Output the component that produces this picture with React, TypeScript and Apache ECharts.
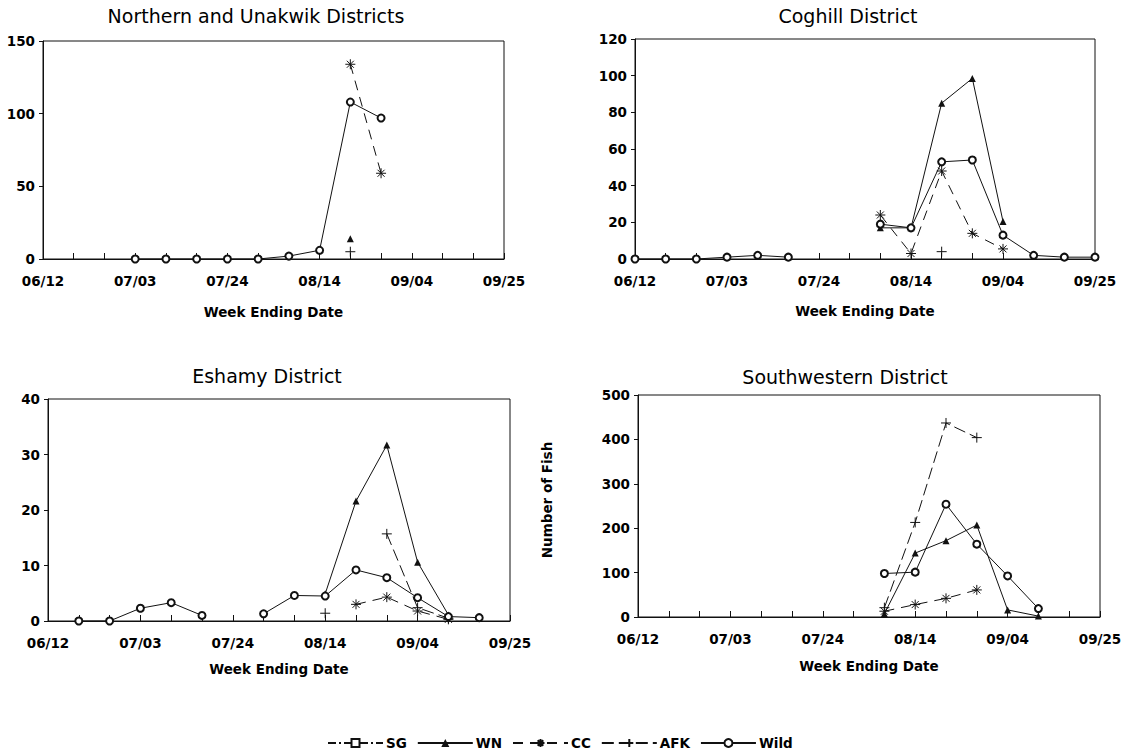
import React, { useEffect, useRef } from "react";
import * as echarts from "echarts";

const weeks = ["06/12","06/19","06/26","07/03","07/10","07/17","07/24","07/31","08/07","08/14","08/21","08/28","09/04","09/11","09/18","09/25"];
const _ = null;

// Northern and Unakwik Districts
const northernSG = [_,_,_,_,_,_,_,_,_,_,_,_,_,_,_,_];
const northernWN = [_,_,_,_,_,_,_,_,_,_,14,_,_,_,_,_];
const northernCC = [_,_,_,_,_,_,_,_,_,_,134,59,_,_,_,_];
const northernAFK = [_,_,_,_,_,_,_,_,_,_,5,_,_,_,_,_];
const northernWild = [_,_,_,0,0,0,0,0,2,6,108,97,_,_,_,_];

// Coghill District
const coghillSG = [_,_,_,_,_,_,_,_,_,_,_,_,_,_,_,_];
const coghillWN = [_,_,_,_,_,_,_,_,17,17,85,98.5,20.5,_,_,_];
const coghillCC = [_,_,_,_,_,_,_,_,24,3,48,14,5.5,_,_,_];
const coghillAFK = [_,_,_,_,_,_,_,_,_,_,4,_,_,_,_,_];
const coghillWild = [0,0,0,1,2,1,_,_,19,17,53,54,13,2,1,1];

// Eshamy District
const eshamySG = [_,_,_,_,_,_,_,_,_,_,_,_,_,_,_,_];
const eshamyWN = [_,_,_,_,_,_,_,_,_,4.9,21.6,31.7,10.6,1.1,_,_];
const eshamyCC = [_,_,_,_,_,_,_,_,_,_,3.0,4.3,1.8,0.3,_,_];
const eshamyAFK = [_,_,_,_,_,_,_,_,_,1.4,_,15.7,2.4,0.5,_,_];
const eshamyWild = [_,0,0,2.3,3.3,1.0,_,1.3,4.6,4.5,9.2,7.8,4.2,0.8,0.6,_];

// Southwestern District
const swSG = [_,_,_,_,_,_,_,_,_,_,_,_,_,_,_,_];
const swWN = [_,_,_,_,_,_,_,_,7.5,144,172,207,16,2,_,_];
const swCC = [_,_,_,_,_,_,_,_,13,28,42,61,_,_,_,_];
const swAFK = [_,_,_,_,_,_,_,_,21,213,437,404,_,_,_,_];
const swWild = [_,_,_,_,_,_,_,_,98,101,254,164,92.5,19,_,_];

const panelTitles = ["Northern and Unakwik Districts", "Coghill District", "Eshamy District", "Southwestern District"];
const yMax = [150, 120, 40, 500];
const yInterval = [50, 20, 10, 100];
const seriesNames = ["SG", "WN", "CC", "AFK", "Wild"];
const panelData = [
  [northernSG, northernWN, northernCC, northernAFK, northernWild],
  [coghillSG, coghillWN, coghillCC, coghillAFK, coghillWild],
  [eshamySG, eshamyWN, eshamyCC, eshamyAFK, eshamyWild],
  [swSG, swWN, swCC, swAFK, swWild],
];

const grids = [
  { left: 43, top: 41, width: 461, height: 218 },
  { left: 635, top: 39, width: 460, height: 220 },
  { left: 48, top: 399, width: 462, height: 222 },
  { left: 638, top: 395, width: 462, height: 222 },
];
const nameGaps = [46, 45, 41, 42];
const titlePos = [
  [256, 16],
  [848, 16],
  [267, 376],
  [845, 377],
];

const FONT = "'DejaVu Sans', 'Liberation Sans', sans-serif";
const INK = "#111";

const plusPath = "path://M5,0L5,10M0,5L10,5";
const starPath = "path://M5,0L5,10M0,5L10,5M1.5,1.5L8.5,8.5M8.5,1.5L1.5,8.5";

const seriesStyle: Record<string, any> = {
  SG: { symbol: "emptyRect", symbolSize: 7, lineType: [8, 3, 2, 3] },
  WN: { symbol: "triangle", symbolSize: 7, lineType: "solid" },
  CC: { symbol: starPath, symbolSize: 10, lineType: [10, 7] },
  AFK: { symbol: plusPath, symbolSize: 10, lineType: [12, 5] },
  Wild: { symbol: "emptyCircle", symbolSize: 7, lineType: "solid" },
};

export default function App() {
  const ref = useRef<HTMLDivElement>(null);
  useEffect(() => {
    if (!ref.current) return;
    const chart = echarts.init(ref.current, undefined, { renderer: "svg" });

    const series: any[] = [];
    panelData.forEach((arrs, gi) => {
      arrs.forEach((arr, si) => {
        const name = seriesNames[si];
        const st = seriesStyle[name];
        const isPath = name === "CC" || name === "AFK";
        series.push({
          type: "line",
          name,
          xAxisIndex: gi,
          yAxisIndex: gi,
          data: arr,
          symbol: st.symbol,
          symbolSize: st.symbolSize,
          showAllSymbol: true,
          connectNulls: false,
          lineStyle: { color: INK, width: 1, type: st.lineType },
          itemStyle: isPath
            ? { color: INK, borderColor: INK, borderWidth: 1 }
            : { color: INK, borderWidth: name === "WN" ? 0 : 0.9 },
          emphasis: { disabled: true },
        });
      });
    });

    const axisText = { fontFamily: FONT, fontWeight: "bold", fontSize: 13.5, color: "#000" };

    const option: any = {
      animation: false,
      backgroundColor: "#fff",
      grid: grids.map((g) => ({ ...g, show: true, borderColor: INK, borderWidth: 1, backgroundColor: "transparent" })),
      xAxis: grids.map((g, i) => ({
        type: "category",
        gridIndex: i,
        data: weeks,
        boundaryGap: false,
        name: "Week Ending Date",
        nameLocation: "middle",
        nameGap: nameGaps[i],
        nameTextStyle: axisText,
        axisLine: { lineStyle: { color: INK, width: 1 } },
        axisTick: { show: true, inside: true, length: 6, interval: 0, lineStyle: { color: INK } },
        axisLabel: { interval: 2, margin: 15, ...axisText },
        splitLine: { show: false },
      })),
      yAxis: grids.map((g, i) => ({
        type: "value",
        gridIndex: i,
        min: 0,
        max: yMax[i],
        interval: yInterval[i],
        axisLine: { show: true, lineStyle: { color: INK, width: 1 } },
        axisTick: { show: true, inside: false, length: 4, lineStyle: { color: INK } },
        axisLabel: { margin: 8, ...axisText },
        splitLine: { show: false },
      })),
      legend: {
        data: seriesNames,
        left: 322,
        top: 731,
        itemWidth: 55,
        itemHeight: 10,
        itemGap: 10,
        textStyle: { ...axisText, padding: [0, 0, 0, -2] },
      },
      graphic: [
        ...panelTitles.map((t, i) => ({
          type: "text",
          x: titlePos[i][0],
          y: titlePos[i][1],
          style: { text: t, font: `19px ${FONT}`, fill: "#000", textAlign: "center", textVerticalAlign: "middle" },
        })),
        {
          type: "text",
          x: 547,
          y: 500,
          rotation: Math.PI / 2,
          style: { text: "Number of Fish", font: `bold 13.5px ${FONT}`, fill: "#000", textAlign: "center", textVerticalAlign: "middle" },
        },
      ],
      series,
    };
    chart.setOption(option);
    return () => chart.dispose();
  }, []);
  return (
    <div
      ref={ref}
      style={{ position: "fixed", left: 0, top: 0, width: 1129, height: 754, background: "#fff" }}
    />
  );
}
